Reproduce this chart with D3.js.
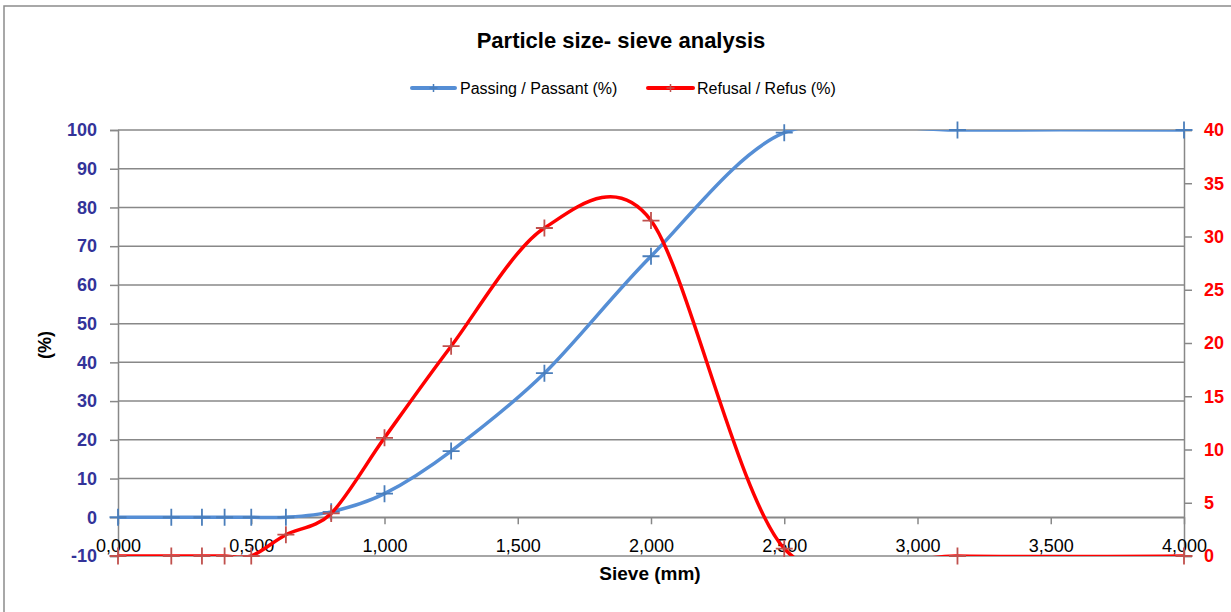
<!DOCTYPE html>
<html>
<head>
<meta charset="utf-8">
<script src="https://cdn.jsdelivr.net/npm/d3@7"></script>
<style>
  body { margin: 0; background: #fff; }
  text { font-family: "Liberation Sans", Arial, sans-serif; }
</style>
</head>
<body>
<div class="chart"></div>
<script>
var width = 1231;
var height = 612;

// data
var sieve   = [0, 0.2, 0.315, 0.4, 0.5, 0.63, 0.8, 1.0, 1.25, 1.6, 2.0, 2.5, 3.15, 4.0];
var passing = [0, 0, 0, 0, 0, 0, 1.4, 6.1, 17.1, 37.2, 67.4, 99.3, 100, 100];
var refusal = [0, 0, 0, 0, 0, 2.0, 4.0, 11.1, 19.7, 30.8, 31.5, 0.7, 0, 0];

var xTicks = [0, 0.5, 1.0, 1.5, 2.0, 2.5, 3.0, 3.5, 4.0];
var leftTicks = [-10, 0, 10, 20, 30, 40, 50, 60, 70, 80, 90, 100];
var rightTicks = [0, 5, 10, 15, 20, 25, 30, 35, 40];

var seriesNames = ["Passing / Passant (%)", "Refusal / Refus (%)"];

var blueLine = "#558ED5", blueMark = "#4A7EBB";
var redLine = "#FF0000", redMark = "#C0504D";
var gridColor = "#888888";

var plot = { left: 118, right: 1184, top: 130, bottom: 556 };

var x = d3.scaleLinear().domain([0, 4]).range([plot.left, plot.right]);
var yL = d3.scaleLinear().domain([-10, 100]).range([plot.bottom, plot.top]);
var yR = d3.scaleLinear().domain([0, 40]).range([plot.bottom, plot.top]);

var svg = d3.select('.chart').append('svg')
	.attr('width', width)
	.attr('height', height);

// outer chart border
svg.append('rect')
	.attr('x', 4).attr('y', 6)
	.attr('width', width + 20).attr('height', height + 20)
	.attr('fill', 'none')
	.attr('stroke', '#8c8c8c')
	.attr('stroke-width', 1.5);

// title
svg.append('text')
	.attr('x', 621).attr('y', 48)
	.attr('text-anchor', 'middle')
	.attr('font-weight', 'bold')
	.attr('font-size', 22)
	.text("Particle size- sieve analysis");

// horizontal gridlines
svg.append('g').selectAll('line').data(leftTicks).enter().append('line')
	.attr('x1', plot.left).attr('x2', plot.right)
	.attr('y1', d => yL(d)).attr('y2', d => yL(d))
	.attr('stroke', gridColor)
	.attr('stroke-width', 1.5);

// plain hyphen for negatives, like the original
var intFmt = d => String(d);

// left axis
var leftAxis = svg.append('g')
	.attr('transform', 'translate(' + plot.left + ',0)')
	.call(d3.axisLeft(yL).tickValues(leftTicks).tickSize(8).tickPadding(13).tickFormat(intFmt));
leftAxis.select('.domain').attr('stroke', gridColor).attr('stroke-width', 1.5);
leftAxis.selectAll('.tick line').attr('stroke', gridColor).attr('stroke-width', 1.5);
leftAxis.selectAll('.tick text')
	.attr('fill', '#333399')
	.attr('font-weight', 'bold')
	.attr('font-size', 18)
	.attr('font-family', '"Liberation Sans", Arial, sans-serif');

// right axis
var rightAxis = svg.append('g')
	.attr('transform', 'translate(' + plot.right + ',0)')
	.call(d3.axisRight(yR).tickValues(rightTicks).tickSize(8).tickPadding(12).tickFormat(intFmt));
rightAxis.select('.domain').attr('stroke', gridColor).attr('stroke-width', 1.5);
rightAxis.selectAll('.tick line').attr('stroke', gridColor).attr('stroke-width', 1.5);
rightAxis.selectAll('.tick text')
	.attr('fill', redLine)
	.attr('font-weight', 'bold')
	.attr('font-size', 18)
	.attr('font-family', '"Liberation Sans", Arial, sans-serif');

// x axis crossing at 0 of the left axis
var commaFmt = d => d3.format('.3f')(d).replace('.', ',');
var xAxis = svg.append('g')
	.attr('transform', 'translate(0,' + yL(0) + ')')
	.call(d3.axisBottom(x).tickValues(xTicks).tickSize(7).tickSizeOuter(0).tickPadding(2).tickFormat(commaFmt));
xAxis.select('.domain').attr('stroke', gridColor).attr('stroke-width', 1.5);
xAxis.selectAll('.tick line').attr('stroke', gridColor).attr('stroke-width', 1.5);
xAxis.selectAll('.tick text')
	.attr('fill', '#000')
	.attr('font-size', 18)
	.attr('font-family', '"Liberation Sans", Arial, sans-serif')
	.attr('dy', null)
	.attr('y', 552 - yL(0));

// axis titles
svg.append('text')
	.attr('transform', 'translate(51,345) rotate(-90)')
	.attr('text-anchor', 'middle')
	.attr('font-weight', 'bold')
	.attr('font-size', 18)
	.text("(%)");
svg.append('text')
	.attr('x', 650).attr('y', 580)
	.attr('text-anchor', 'middle')
	.attr('font-weight', 'bold')
	.attr('font-size', 19)
	.text("Sieve (mm)");

// clip to the plot area
svg.append('clipPath').attr('id', 'plotClip')
	.append('rect')
	.attr('x', plot.left - 10).attr('y', plot.top)
	.attr('width', plot.right - plot.left + 20).attr('height', plot.bottom - plot.top);

var smooth = d3.curveCardinal.tension(0.1);

function plus(g, pts, color) {
	var arm = 8.5;
	g.selectAll('path.mark').data(pts).enter().append('path')
		.attr('class', 'mark')
		.attr('d', d => 'M' + (d[0] - arm) + ',' + d[1] + 'H' + (d[0] + arm) +
			'M' + d[0] + ',' + (d[1] - arm) + 'V' + (d[1] + arm))
		.attr('stroke', color)
		.attr('stroke-width', 1.8)
		.attr('fill', 'none');
}

function drawSeries(values, yScale, lineColor, markColor) {
	var pts = sieve.map((s, i) => [x(s), yScale(values[i])]);
	var g = svg.append('g');
	g.append('path')
		.datum(pts)
		.attr('clip-path', 'url(#plotClip)')
		.attr('d', d3.line().curve(smooth))
		.attr('fill', 'none')
		.attr('stroke', lineColor)
		.attr('stroke-width', 3.5)
		.attr('stroke-linejoin', 'round');
	plus(g, pts, markColor);
}

drawSeries(passing, yL, blueLine, blueMark);
drawSeries(refusal, yR, redLine, redMark);

// legend
var legend = [
	{ name: seriesNames[0], line: blueLine, mark: blueMark, x1: 412, x2: 455, tx: 460 },
	{ name: seriesNames[1], line: redLine, mark: redMark, x1: 648, x2: 693, tx: 697 }
];
var lg = svg.append('g').selectAll('g').data(legend).enter().append('g');
lg.append('line')
	.attr('x1', d => d.x1).attr('x2', d => d.x2)
	.attr('y1', 88).attr('y2', 88)
	.attr('stroke', d => d.line)
	.attr('stroke-width', 4)
	.attr('stroke-linecap', 'round');
lg.append('path')
	.attr('d', d => { var c = (d.x1 + d.x2) / 2; return 'M' + (c - 4) + ',88H' + (c + 4) + 'M' + c + ',84V92'; })
	.attr('stroke', d => d.mark)
	.attr('stroke-width', 1.5);
lg.append('text')
	.attr('x', d => d.tx).attr('y', 94)
	.attr('font-size', 16)
	.text(d => d.name);
</script>
</body>
</html>
